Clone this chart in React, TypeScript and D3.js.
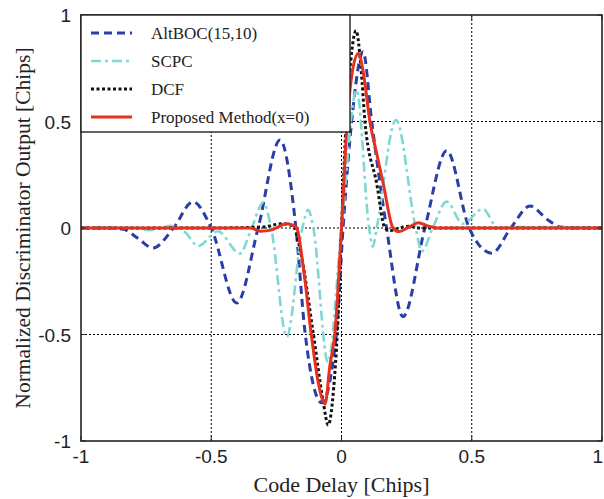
import * as d3 from "d3";

// AltBOC(15,10)
const altbocX = [-1, -0.9, -0.84, -0.78, -0.724, -0.645, -0.57, -0.5, -0.402, -0.32, -0.236, -0.175, -0.14, -0.076, -0.02, 0.006, 0.039, 0.083, 0.116, 0.173, 0.236, 0.32, 0.404, 0.49, 0.577, 0.65, 0.724, 0.79, 0.84, 0.9, 1];
const altbocY = [0, 0, -0.005, -0.05, -0.094, 0, 0.123, 0, -0.352, 0, 0.413, 0, -0.49, -0.82, -0.5, 0, 0.5, 0.828, 0.5, 0, -0.416, 0, 0.363, 0, -0.118, 0, 0.103, 0.04, 0.005, 0, 0];

// SCPC
const scpcX = [-1, -0.8, -0.735, -0.69, -0.657, -0.6, -0.55, -0.475, -0.39, -0.345, -0.3, -0.27, -0.21, -0.15, -0.128, -0.108, -0.052, 0.0, 0.058, 0.106, 0.12, 0.135, 0.209, 0.285, 0.308, 0.35, 0.404, 0.465, 0.543, 0.6, 0.7, 1];
const scpcY = [0, 0, -0.01, 0, 0.01, -0.02, -0.085, -0.015, -0.12, 0, 0.12, 0, -0.51, 0, 0.085, 0, -0.63, 0, 0.648, 0, -0.088, 0, 0.507, 0, -0.11, 0, 0.124, 0.02, 0.089, 0, 0.005, 0];

// DCF
const dcfX = [-1, -0.5, -0.3, -0.23, -0.186, -0.159, -0.109, -0.071, -0.051, -0.03, -0.016, 0.0, 0.018, 0.035, 0.056, 0.075, 0.09, 0.135, 0.167, 0.19, 0.22, 0.26, 0.3, 1];
const dcfY = [0, 0, 0.005, 0.02, 0.01, -0.1, -0.49, -0.81, -0.925, -0.75, -0.49, 0, 0.5, 0.78, 0.926, 0.75, 0.5, 0.21, 0, -0.012, 0, 0.008, 0, 0];

// Proposed Method(x=0)
const propX = [-1, -0.5, -0.35, -0.31, -0.27, -0.21, -0.19, -0.172, -0.145, -0.117, -0.09, -0.063, -0.045, -0.025, 0.0, 0.022, 0.045, 0.065, 0.085, 0.109, 0.135, 0.16, 0.198, 0.22, 0.26, 0.295, 0.33, 0.37, 1];
const propY = [0, 0, 0, -0.015, -0.01, 0.02, 0.015, 0, -0.2, -0.49, -0.72, -0.826, -0.65, -0.49, 0, 0.5, 0.757, 0.82, 0.72, 0.5, 0.35, 0.21, 0, -0.017, 0.005, 0.025, 0.01, 0, 0];

const xTicks = [-1, -0.5, 0, 0.5, 1];
const yTicks = [-1, -0.5, 0, 0.5, 1];
const gridTicks = [-0.5, 0, 0.5];

const series = [
  { name: "AltBOC(15,10)", xs: altbocX, ys: altbocY, color: "#2b3ea8", dash: "8,5", width: 3 },
  { name: "SCPC", xs: scpcX, ys: scpcY, color: "#7fd9d3", dash: "10,4,3,4", width: 2.6 },
  { name: "DCF", xs: dcfX, ys: dcfY, color: "#111111", dash: "3,2.5", width: 3 },
  { name: "Proposed Method(x=0)", xs: propX, ys: propY, color: "#e5311f", dash: null, width: 3 },
];

const W = 604;
const H = 499;
const left = 81;
const right = 602;
const top = 15;
const bottom = 441;

export default function App() {
  const x = d3.scaleLinear().domain([-1, 1]).range([left, right]);
  const y = d3.scaleLinear().domain([-1, 1]).range([bottom, top]);
  const line = d3
    .line<[number, number]>()
    .x((d) => x(d[0]))
    .y((d) => y(d[1]))
    .curve(d3.curveMonotoneX);

  const tickFont = "'Liberation Sans', Arial, sans-serif";
  const serif = "'Liberation Serif', 'Times New Roman', serif";

  // legend box
  const lg = { x0: left, y0: top, x1: 350, y1: 132 };

  return (
    <svg width={W} height={H} style={{ position: "absolute", left: 0, top: 0, background: "#fff" }}>
      <defs>
        <clipPath id="plot">
          <rect x={left} y={top} width={right - left} height={bottom - top} />
        </clipPath>
      </defs>
      <rect x={0} y={0} width={W} height={H} fill="#fff" />

      {/* grid */}
      {gridTicks.map((t) => (
        <line key={"gx" + t} x1={x(t)} x2={x(t)} y1={top} y2={bottom} stroke="#000" strokeWidth={1} strokeDasharray="2,2" />
      ))}
      {gridTicks.map((t) => (
        <line key={"gy" + t} x1={left} x2={right} y1={y(t)} y2={y(t)} stroke="#000" strokeWidth={1} strokeDasharray="2,2" />
      ))}

      {/* curves */}
      <g clipPath="url(#plot)">
        {series.map((s) => (
          <path
            key={s.name}
            d={line(s.xs.map((v, i) => [v, s.ys[i]] as [number, number])) || ""}
            fill="none"
            stroke={s.color}
            strokeWidth={s.width}
            strokeDasharray={s.dash || undefined}
            strokeLinejoin="round"
          />
        ))}
      </g>

      {/* axes box */}
      <rect x={left} y={top} width={right - left} height={bottom - top} fill="none" stroke="#222" strokeWidth={1.6} />
      {xTicks.map((t, i) => {
        const last = i === xTicks.length - 1;
        return (
          <g key={"tx" + t}>
            <line x1={x(t)} x2={x(t)} y1={bottom} y2={bottom - 5} stroke="#222" />
            <line x1={x(t)} x2={x(t)} y1={top} y2={top + 5} stroke="#222" />
            <text
              x={last ? W - 1 : x(t)}
              y={bottom + 22}
              textAnchor={last ? "end" : "middle"}
              fontFamily={tickFont}
              fontSize={19}
              fill="#222"
            >
              {t}
            </text>
          </g>
        );
      })}
      {yTicks.map((t) => (
        <g key={"ty" + t}>
          <line x1={left} x2={left + 5} y1={y(t)} y2={y(t)} stroke="#222" />
          <line x1={right} x2={right - 5} y1={y(t)} y2={y(t)} stroke="#222" />
          <text x={left - 10} y={y(t) + 7} textAnchor="end" fontFamily={tickFont} fontSize={19} fill="#222">
            {t}
          </text>
        </g>
      ))}

      {/* legend */}
      <rect x={lg.x0} y={lg.y0} width={lg.x1 - lg.x0} height={lg.y1 - lg.y0} fill="#fff" stroke="#222" strokeWidth={1.4} />
      {series.map((s, i) => {
        const cy = 33 + i * 28;
        return (
          <g key={"lg" + s.name}>
            <line x1={91} x2={132} y1={cy} y2={cy} stroke={s.color} strokeWidth={s.width} strokeDasharray={s.dash || undefined} />
            <text x={151} y={cy + 6} fontFamily={serif} fontSize={17} fill="#222">
              {s.name}
            </text>
          </g>
        );
      })}

      {/* axis labels */}
      <text x={(left + right) / 2} y={492} textAnchor="middle" fontFamily={serif} fontSize={22} fill="#222">
        Code Delay [Chips]
      </text>
      <text
        transform={`translate(30, ${(top + bottom) / 2}) rotate(-90)`}
        textAnchor="middle"
        fontFamily={serif}
        fontSize={21.5}
        fill="#222"
      >
        Normalized Discriminator Output [Chips]
      </text>
    </svg>
  );
}
